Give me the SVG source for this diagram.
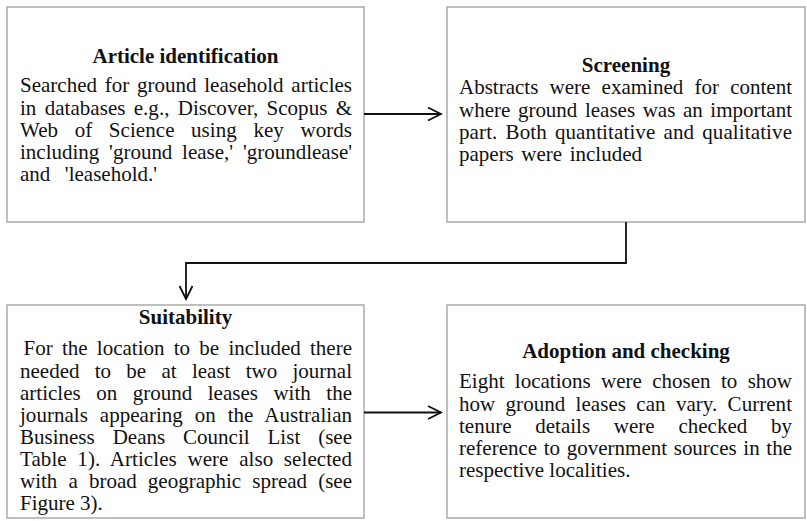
<svg xmlns="http://www.w3.org/2000/svg" width="807" height="521" viewBox="0 0 807 521">
<style>
.box{fill:#ffffff;stroke:#ababab;stroke-width:1.5}
.t{font-family:'Liberation Serif','Times New Roman',serif;font-size:21px;fill:#111}
.h{font-family:'Liberation Serif','Times New Roman',serif;font-size:21px;font-weight:bold;fill:#111;text-anchor:middle}
.c{fill:none;stroke:#111;stroke-width:1.8}
</style>
<defs>
<marker id="arr" viewBox="0 0 16 16" refX="14" refY="8" markerWidth="16" markerHeight="16" markerUnits="userSpaceOnUse" orient="auto">
<path d="M1,1.5 L14,8 L1,14.5" fill="none" stroke="#111" stroke-width="1.8"/>
</marker>
</defs>
<rect width="807" height="521" fill="#ffffff"/>
<g id="n1">
<rect class="box" x="7" y="7" width="357" height="215"/>
<text class="h" x="185.5" y="62.7">Article identification</text>
<text class="t" x="20" y="92.3" word-spacing="2.5" textLength="332" lengthAdjust="spacing">Searched for ground leasehold articles</text>
<text class="t" x="20" y="114.5" word-spacing="3" textLength="332" lengthAdjust="spacing">in databases e.g., Discover, Scopus &amp;</text>
<text class="t" x="20" y="136.7" word-spacing="11.2" textLength="332" lengthAdjust="spacing">Web of Science using key words</text>
<text class="t" x="20" y="159" word-spacing="4.5" textLength="332" lengthAdjust="spacing">including 'ground lease,' 'groundlease'</text>
<text class="t" x="20" y="181" word-spacing="9.3" textLength="137" lengthAdjust="spacing">and 'leasehold.'</text>
</g>
<g id="n2">
<rect class="box" x="447" y="7" width="358" height="215"/>
<text class="h" x="626" y="71.5">Screening</text>
<text class="t" x="459" y="94" word-spacing="6" textLength="333" lengthAdjust="spacing">Abstracts were examined for content</text>
<text class="t" x="459" y="116.5" word-spacing="2.3" textLength="333" lengthAdjust="spacing">where ground leases was an important</text>
<text class="t" x="459" y="138.5" word-spacing="2.7" textLength="333" lengthAdjust="spacing">part. Both quantitative and qualitative</text>
<text class="t" x="459" y="161" word-spacing="2.3" textLength="183" lengthAdjust="spacing">papers were included</text>
</g>
<g id="n3">
<rect class="box" x="7" y="305" width="357" height="213"/>
<text class="h" x="185.5" y="324.3">Suitability</text>
<text class="t" x="23.5" y="355" word-spacing="4" textLength="328.5" lengthAdjust="spacing">For the location to be included there</text>
<text class="t" x="20" y="377.5" word-spacing="10" textLength="332" lengthAdjust="spacing">needed to be at least two journal</text>
<text class="t" x="20" y="399.5" word-spacing="10.3" textLength="332" lengthAdjust="spacing">articles on ground leases with the</text>
<text class="t" x="20" y="421.7" word-spacing="6.6" textLength="332" lengthAdjust="spacing">journals appearing on the Australian</text>
<text class="t" x="20" y="443.5" word-spacing="12.7" textLength="332" lengthAdjust="spacing">Business Deans Council List (see</text>
<text class="t" x="20" y="466" word-spacing="5.3" textLength="332" lengthAdjust="spacing">Table 1). Articles were also selected</text>
<text class="t" x="20" y="488" word-spacing="5.9" textLength="332" lengthAdjust="spacing">with a broad geographic spread (see</text>
<text class="t" x="20" y="510">Figure 3).</text>
</g>
<g id="n4">
<rect class="box" x="447" y="305" width="358" height="213"/>
<text class="h" x="626" y="358.3">Adoption and checking</text>
<text class="t" x="459" y="388.3" word-spacing="5.1" textLength="333" lengthAdjust="spacing">Eight locations were chosen to show</text>
<text class="t" x="459" y="410.5" word-spacing="5" textLength="333" lengthAdjust="spacing">how ground leases can vary. Current</text>
<text class="t" x="459" y="432.7" word-spacing="18.5" textLength="333" lengthAdjust="spacing">tenure details were checked by</text>
<text class="t" x="459" y="455" word-spacing="1.4" textLength="333" lengthAdjust="spacing">reference to government sources in the</text>
<text class="t" x="459" y="477">respective localities.</text>
</g>
<g id="connectors">
<path class="c" d="M364,114 H441" marker-end="url(#arr)"/>
<path class="c" d="M626,222 V263 H186 V299" marker-end="url(#arr)"/>
<path class="c" d="M364,412.5 H441" marker-end="url(#arr)"/>
</g>
</svg>
